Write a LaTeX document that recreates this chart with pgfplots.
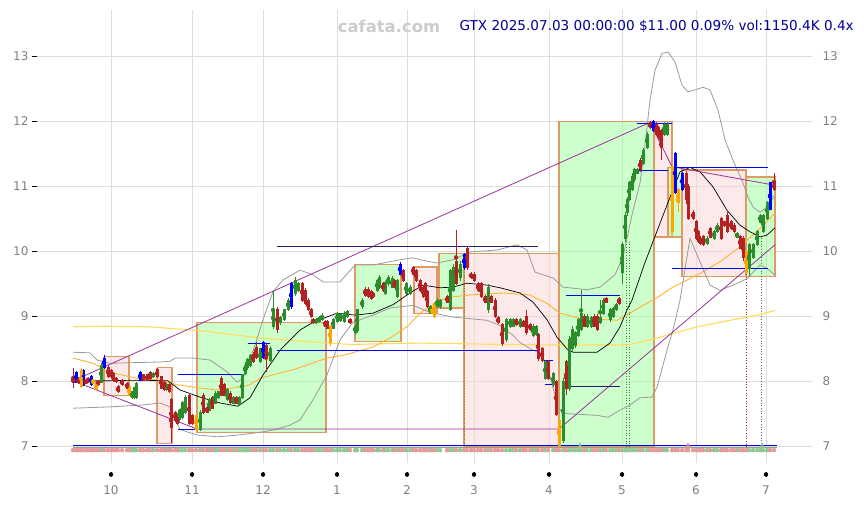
\documentclass[border=0pt]{standalone}
\usepackage{pgfplots}
\pgfplotsset{compat=1.18}
\usepackage{pgfplotstable}
\usepackage{fontspec}
\setmainfont{DejaVu Sans}
\definecolor{cgreen}{HTML}{2A8C2A}
\definecolor{cred}{HTML}{B22222}
\definecolor{cblue}{HTML}{0000FF}
\definecolor{corange}{HTML}{FFA500}
\definecolor{boxedge}{HTML}{DE9A62}
\definecolor{boxgreen}{HTML}{99FF99}
\definecolor{boxpink}{HTML}{FAD4D4}
\definecolor{band}{HTML}{9A9A9A}
\definecolor{maorange}{HTML}{FFB330}
\definecolor{magold}{HTML}{FFDD55}
\definecolor{cpurple}{HTML}{993399}
\definecolor{darkline}{HTML}{202070}
\definecolor{titleblue}{HTML}{000099}
\definecolor{wm}{HTML}{CCCCCC}
\definecolor{tickgray}{HTML}{808080}
\definecolor{gridc}{HTML}{DDDDDD}
\definecolor{volgreen}{HTML}{92C992}
\definecolor{volred}{HTML}{E39B9B}

\pgfplotstableread{
x o c h l
101 7.99 8.25 8.28 7.97
132 7.75 7.84 7.86 7.73
134 7.75 7.90 7.92 7.73
136 7.75 7.97 7.99 7.73
153 8.07 8.12 8.14 8.05
166 7.87 7.95 7.97 7.85
179 7.41 7.56 7.58 7.38
182 7.45 7.67 7.70 7.42
185 7.52 7.76 7.80 7.50
200 7.26 7.53 7.56 7.24
209 7.56 7.72 7.75 7.54
215 7.67 7.82 7.85 7.65
218 7.75 7.84 7.86 7.73
227 7.72 7.87 7.90 7.70
233 7.67 7.76 7.78 7.65
239 7.64 7.76 7.78 7.62
242 7.75 8.10 8.12 7.73
245 8.13 8.25 8.28 8.10
247 8.22 8.33 8.36 8.18
250 8.25 8.40 8.43 8.22
260 8.30 8.50 8.52 8.28
270 8.33 8.51 8.54 8.30
273 8.85 9.10 9.40 8.80
280 8.90 8.98 9.00 8.87
284 8.95 9.10 9.12 8.93
288 9.10 9.25 9.28 9.08
295 9.35 9.55 9.60 9.32
298 9.40 9.50 9.53 9.38
316 8.90 8.95 8.97 8.88
319 8.92 8.98 9.00 8.90
322 8.95 9.00 9.05 8.93
333 8.82 8.95 8.98 8.80
337 8.92 9.05 9.07 8.90
340 8.93 9.03 9.05 8.91
344 8.92 9.05 9.08 8.90
347 9.00 9.07 9.10 8.98
355 8.75 8.85 8.88 8.72
357 8.78 9.10 9.12 8.75
362 9.15 9.25 9.28 9.12
377 9.40 9.55 9.58 9.38
379 9.45 9.60 9.63 9.42
385 9.35 9.52 9.55 9.33
388 9.50 9.60 9.63 9.47
392 9.45 9.58 9.62 9.43
397 9.30 9.55 9.58 9.28
406 9.35 9.50 9.53 9.33
410 9.35 9.45 9.48 9.33
430 9.05 9.15 9.18 9.03
437 9.15 9.25 9.28 9.13
440 9.15 9.25 9.27 9.12
450 9.10 9.70 9.73 9.08
453 9.40 9.75 9.80 9.38
460 9.60 9.80 9.85 9.55
488 9.10 9.45 9.50 9.05
506 8.65 8.95 8.98 8.60
510 8.85 8.95 8.98 8.82
513 8.85 8.95 8.97 8.83
520 8.85 8.95 8.98 8.82
533 8.70 8.85 8.88 8.68
536 8.72 8.85 8.87 8.70
545 8.05 8.30 8.33 8.02
553 7.95 8.12 8.15 7.92
563 7.10 8.00 8.05 7.05
569 7.90 8.65 8.70 7.85
572 8.50 8.80 8.85 8.45
575 8.55 8.75 8.78 8.52
578 8.70 8.95 8.98 8.68
581 8.80 9.05 9.40 8.78
587 8.85 9.00 9.03 8.82
591 8.85 8.98 9.00 8.82
600 8.90 8.98 9.25 8.88
603 9.05 9.25 9.28 9.02
610 8.95 9.10 9.13 8.92
613 9.00 9.12 9.15 8.98
616 9.10 9.18 9.20 9.08
622 9.67 10.10 10.15 9.50
625 10.20 10.55 10.60 10.15
627 10.60 10.80 10.83 10.55
629 10.80 11.05 11.08 10.77
632 10.95 11.15 11.18 10.92
634 11.10 11.25 11.28 11.07
637 11.20 11.25 11.28 11.18
643 11.35 11.55 11.58 11.32
647 11.60 11.80 11.83 11.57
664 11.80 11.95 11.98 11.77
667 11.80 11.95 11.98 11.77
707 10.12 10.20 10.23 10.10
714 10.20 10.30 10.33 10.18
717 10.30 10.40 10.43 10.28
737 10.22 10.27 10.30 10.20
749 9.73 10.10 10.12 9.62
753 9.90 10.10 10.13 9.88
757 10.10 10.30 10.33 10.08
760 10.45 10.55 10.58 10.43
763 10.30 10.55 10.58 10.28
767 10.50 10.75 10.78 10.48
}\greentab

\pgfplotstableread{
x o c h l
73 8.04 7.99 8.20 7.90
78 8.05 7.98 8.07 7.96
86 8.01 7.98 8.03 7.96
88 8.05 8.00 8.07 7.98
98 8.00 7.95 8.02 7.93
108 8.22 8.07 8.25 8.05
111 8.17 8.07 8.19 8.05
113 8.12 8.01 8.14 7.99
116 8.05 8.00 8.07 7.98
118 7.92 7.84 7.94 7.82
122 8.02 7.95 8.04 7.93
127 7.97 7.90 7.99 7.88
143 8.10 8.02 8.12 8.00
147 8.10 8.02 8.12 8.00
150 8.14 8.05 8.16 8.03
157 8.18 8.07 8.20 8.05
161 8.07 7.90 8.09 7.88
164 7.98 7.87 8.00 7.85
169 7.95 7.84 7.97 7.82
171 7.72 7.29 7.75 7.06
175 7.52 7.41 7.55 7.38
177 7.44 7.36 7.47 7.33
189 7.79 7.36 7.82 7.33
192 7.48 7.36 7.50 7.33
203 7.79 7.53 7.82 7.50
207 7.60 7.53 7.62 7.51
212 7.75 7.59 7.78 7.57
221 8.05 7.79 8.08 7.77
224 7.95 7.79 7.97 7.77
230 7.82 7.68 7.85 7.66
236 7.75 7.67 7.77 7.65
253 8.42 8.30 8.45 8.28
256 8.52 8.37 8.60 8.35
266 8.55 8.35 8.58 8.15
277 9.10 8.80 9.15 8.75
302 9.50 9.25 9.53 9.22
305 9.40 9.20 9.43 9.18
308 9.25 9.10 9.28 9.08
311 9.10 9.00 9.13 8.98
313 8.95 8.90 8.98 8.88
325 8.92 8.85 8.95 8.83
327 8.92 8.82 8.95 8.80
350 8.95 8.90 8.98 8.88
365 9.42 9.32 9.45 9.30
368 9.42 9.30 9.45 9.28
371 9.38 9.27 9.40 9.25
373 9.35 9.30 9.38 9.28
383 9.50 9.40 9.53 9.38
394 9.55 9.45 9.58 9.43
403 9.70 9.55 9.73 9.53
413 9.75 9.65 9.78 9.63
416 9.70 9.55 9.73 9.53
420 9.55 9.40 9.58 9.38
423 9.45 9.30 9.48 9.28
425 9.50 9.30 9.53 9.28
427 9.38 9.15 9.40 9.13
447 9.30 9.22 9.33 9.20
456 9.85 9.50 10.33 9.48
467 10.05 9.75 10.08 9.72
471 9.65 9.60 9.68 9.58
474 9.65 9.55 9.68 9.53
478 9.50 9.40 9.53 9.38
481 9.50 9.30 9.53 9.28
485 9.30 9.22 9.33 9.20
491 9.30 9.22 9.33 9.20
495 9.25 9.00 9.28 8.98
498 8.98 8.90 9.00 8.88
502 8.88 8.58 8.90 8.55
516 8.95 8.88 8.97 8.86
523 8.92 8.85 8.95 8.83
526 9.00 8.75 9.10 8.72
530 8.88 8.80 8.90 8.78
538 8.72 8.35 8.75 8.32
542 8.50 8.32 8.53 8.30
548 8.30 8.05 8.33 8.02
556 8.00 7.50 8.03 7.47
566 8.30 7.90 8.33 7.80
584 9.00 8.85 9.03 8.83
594 9.00 8.85 9.03 8.83
597 9.00 8.80 9.03 8.78
606 9.28 9.22 9.30 9.20
619 9.27 9.20 9.30 9.18
640 11.40 11.25 11.43 11.22
650 11.98 11.90 12.00 11.88
656 11.95 11.80 11.98 11.78
658 11.90 11.75 11.93 11.73
661 11.85 11.60 11.88 11.40
686 11.20 10.80 11.23 10.78
688 11.00 10.50 11.03 10.48
693 10.60 10.50 10.63 10.48
696 10.45 10.20 10.48 10.18
698 10.30 10.15 10.33 10.13
700 10.20 10.12 10.23 10.10
703 10.22 10.10 10.25 10.08
710 10.35 10.22 10.38 10.20
721 10.50 10.20 10.53 10.18
724 10.45 10.40 10.47 10.38
727 10.55 10.30 10.60 10.28
731 10.45 10.35 10.48 10.33
734 10.40 10.30 10.43 10.28
740 10.22 10.05 10.25 10.03
743 10.20 9.90 10.23 9.85
774 11.05 10.95 11.20 10.93
}\redtab

\pgfplotstableread{
x o c h l
76 7.99 8.14 8.16 7.97
83 7.95 8.17 8.19 7.93
91 7.95 8.08 8.10 7.93
104 8.21 8.36 8.40 8.19
140 8.02 8.14 8.16 8.00
263 8.37 8.60 8.62 8.35
291 9.15 9.50 9.53 9.12
400 9.65 9.80 9.83 9.63
464 9.75 9.95 9.97 9.72
653 11.85 12.00 12.02 11.83
675 10.90 11.50 11.52 10.88
682 10.95 11.20 11.22 10.93
770 10.65 11.05 11.07 10.63
}\bluetab

\pgfplotstableread{
x o c h l
81 8.17 7.92 8.20 7.90
93 8.02 7.98 8.04 7.96
96 7.98 7.87 8.00 7.85
129 7.92 7.79 7.94 7.77
196 7.48 7.26 7.50 7.24
330 8.85 8.60 8.87 8.55
432 9.12 9.05 9.14 9.03
434 9.20 9.00 9.22 8.98
559 7.40 7.02 7.45 7.00
672 11.30 10.30 11.32 10.28
678 10.95 10.75 10.97 10.60
746 10.00 9.67 10.02 9.65
}\orangetab

\pgfplotsset{
  wick/.style={only marks, mark=none, forget plot,
    error bars/.cd, y dir=both, y explicit, error mark=none,
    error bar style={line width=0.9bp}, /pgfplots/.cd},
  body/.style={only marks, mark=none, forget plot,
    error bars/.cd, y dir=both, y explicit, error mark=none,
    error bar style={line width=3bp}, /pgfplots/.cd},
  vol/.style={only marks, mark=none, forget plot,
    error bars/.cd, y dir=both, y explicit, error mark=none,
    error bar style={line width=2.6bp}, /pgfplots/.cd},
  bx/.style={draw=boxedge, line width=1.2bp, fill=#1, fill opacity=0.5, forget plot},
}

\begin{document}
\begin{tikzpicture}
\path[use as bounding box] (0,0) rectangle (864bp,505bp);
\begin{axis}[
  at={(37bp,42bp)}, anchor=south west, scale only axis,
  width=775bp, height=453bp,
  xmin=37, xmax=812, ymin=6.748, ymax=13.707,
  clip=false,
  axis line style={draw=none},
  xtick={111,192,263,337,407,474,549,622,696,766},
  xticklabels={10,11,12,1,2,3,4,5,6,7},
  xtick pos=left, xticklabel pos=left,
  xtick style={draw=none},
  xticklabel style={font=\fontsize{12bp}{14bp}\selectfont, text=tickgray, yshift=-14bp},
  ytick={7,8,9,10,11,12,13},
  ytick pos=left, yticklabel pos=left,
  tick align=outside, major tick length=5bp,
  ytick style={color=black, line width=0.8bp},
  xmajorgrids, ymajorgrids,
  grid style={color=gridc, line width=0.9bp},
  /pgf/number format/assume math mode=true,
  yticklabel style={font=\fontsize{12bp}{14bp}\selectfont, text=tickgray},
]
% boxes
\addplot[bx=boxpink] coordinates {(104,8.38) (129,8.38) (129,7.78) (104,7.78) (104,8.38)};
\addplot[bx=boxpink] coordinates {(157,8.21) (172,8.21) (172,7.05) (157,7.05) (157,8.21)};
\addplot[bx=boxgreen] coordinates {(197,8.91) (326,8.91) (326,7.22) (197,7.22) (197,8.91)};
\addplot[bx=boxgreen] coordinates {(355,9.80) (401,9.80) (401,8.62) (355,8.62) (355,9.80)};
\addplot[bx=boxpink] coordinates {(414,9.76) (437,9.76) (437,9.05) (414,9.05) (414,9.76)};
\addplot[bx=boxgreen] coordinates {(439,9.97) (464,9.97) (464,9.13) (439,9.13) (439,9.97)};
\addplot[bx=boxpink] coordinates {(464,9.97) (559,9.97) (559,7.01) (464,7.01) (464,9.97)};
\addplot[bx=boxgreen] coordinates {(559,12.0) (654,12.0) (654,7.01) (559,7.01) (559,12.0)};
\addplot[bx=boxpink] coordinates {(654,12.0) (672,12.0) (672,10.22) (654,10.22) (654,12.0)};
\addplot[bx=boxgreen] coordinates {(668,11.29) (682,11.29) (682,10.22) (668,10.22) (668,11.29)};
\addplot[bx=boxpink] coordinates {(682,11.25) (746,11.25) (746,9.61) (682,9.61) (682,11.25)};
\addplot[bx=boxgreen] coordinates {(746,11.14) (775,11.14) (775,9.61) (746,9.61) (746,11.14)};

% x tick marks below the plot area (month positions)
\addplot[black, only marks, mark=none, forget plot,
  error bars/.cd, y dir=both, y explicit, error mark=none,
  error bar style={line width=0.8bp}] coordinates {
(111,6.572) +- (0,0.038) (192,6.572) +- (0,0.038) (263,6.572) +- (0,0.038)
(337,6.572) +- (0,0.038) (407,6.572) +- (0,0.038) (474,6.572) +- (0,0.038)
(549,6.572) +- (0,0.038) (622,6.572) +- (0,0.038) (696,6.572) +- (0,0.038)
(766,6.572) +- (0,0.038)};

% dotted verticals
\addplot[olive, dotted, line width=0.7bp, forget plot] coordinates {(464,9.97) (464,7.0)};
\addplot[cgreen, dotted, line width=0.7bp, forget plot] coordinates {(626,10.15) (626,7.0)};
\addplot[cgreen, dotted, line width=0.7bp, forget plot] coordinates {(629,10.15) (629,7.0)};
\addplot[cred, dotted, line width=0.7bp, forget plot] coordinates {(746,9.65) (746,7.0)};
\addplot[cgreen, dotted, line width=0.7bp, forget plot] coordinates {(761,10.2) (761,7.0)};

% gold MA
\addplot[magold, line width=1.1bp, forget plot] coordinates {
(73,8.84) (100,8.85) (150,8.84) (200,8.78) (260,8.67) (300,8.62) (350,8.57) (420,8.59)
(500,8.57) (560,8.56) (627,8.56) (653,8.65) (673,8.74) (700,8.85) (730,8.94) (760,9.03) (775,9.09)};
% orange MA
\addplot[maorange, line width=0.9bp, forget plot] coordinates {
(73,8.36) (93,8.28) (110,8.14) (137,8.05) (160,8.02) (177,7.95) (200,7.90) (217,7.87)
(233,7.90) (250,7.95) (260,8.05) (293,8.18) (327,8.36) (345,8.41) (373,8.53) (390,8.67)
(407,8.84) (420,9.05) (440,9.25) (453,9.30) (470,9.33) (503,9.36) (530,9.33) (547,9.20)
(560,9.05) (580,8.97) (617,8.94) (630,9.05) (643,9.17) (653,9.25) (673,9.45) (700,9.66)
(720,9.84) (740,10.07) (760,10.35) (775,10.59)};
% upper band
\addplot[band, line width=0.8bp, forget plot] coordinates {
(73,8.45) (90,8.44) (97,8.33) (110,8.28) (160,8.30) (170,8.31) (175,8.36) (193,8.36)
(210,8.33) (227,8.15) (237,7.99) (243,8.05) (255,8.56) (263,8.95) (273,9.38) (283,9.56)
(300,9.71) (313,9.64) (323,9.53) (340,9.53) (355,9.79) (373,9.79) (400,9.87) (413,9.90)
(420,9.87) (437,9.82) (453,9.87) (470,9.99) (497,10.02) (517,10.10) (527,10.02) (535,9.68)
(553,9.59) (563,9.45) (587,9.41) (600,9.45) (615,9.64) (623,9.91) (632,10.56) (640,11.05)
(645,11.63) (650,12.32) (655,12.78) (662,13.04) (668,13.06) (675,12.91) (682,12.55)
(688,12.45) (695,12.48) (703,12.52) (710,12.48) (718,12.17) (725,11.71) (733,11.40)
(743,11.05) (748,10.83) (753,10.68) (760,10.60) (767,10.68) (775,10.86)};
% lower band
\addplot[band, line width=0.8bp, forget plot] coordinates {
(73,7.59) (110,7.61) (143,7.64) (160,7.67) (170,7.61) (180,7.26) (197,7.18) (217,7.15)
(240,7.18) (260,7.22) (275,7.26) (290,7.33) (300,7.41) (313,7.72) (327,8.10) (340,8.64)
(353,8.91) (373,9.02) (390,9.13) (413,9.17) (430,9.06) (453,8.99) (487,8.94) (500,8.86)
(513,8.71) (520,8.60) (533,8.48) (540,8.45) (548,8.20) (558,7.61) (563,7.51) (597,7.48)
(608,7.45) (620,7.56) (630,7.64) (640,7.75) (652,7.76) (657,7.91) (667,8.48) (673,8.79)
(680,9.25) (690,10.20) (700,9.84) (710,9.48) (720,9.40) (733,9.48) (747,9.58) (760,9.79)
(767,9.74) (775,9.63)};
% black MA
\addplot[black, line width=0.7bp, forget plot] coordinates {
(73,8.01) (100,8.01) (137,8.02) (168,8.01) (180,7.87) (200,7.76) (220,7.67) (238,7.62)
(250,7.75) (263,8.10) (280,8.48) (300,8.79) (313,8.91) (337,9.05) (355,9.02) (373,9.05)
(393,9.18) (410,9.36) (423,9.48) (440,9.44) (453,9.45) (467,9.51) (487,9.48) (500,9.44)
(520,9.36) (533,9.22) (547,8.95) (557,8.68) (567,8.50) (573,8.45) (597,8.45) (610,8.59)
(620,8.84) (627,9.10) (632,9.25) (645,9.83) (660,10.43) (670,10.83) (680,11.22)
(690,11.29) (700,11.22) (713,10.99) (727,10.63) (740,10.40) (750,10.30) (760,10.22)
(767,10.25) (775,10.36)};

% purple trend lines
\addplot[cpurple, line width=0.8bp, forget plot] coordinates {(73,8.01) (650,11.98)};
\addplot[cpurple, line width=0.8bp, forget plot] coordinates {(73,8.01) (197,7.27) (559,7.27) (775,10.10)};
\addplot[cpurple, line width=0.8bp, forget plot] coordinates {(650,11.98) (672,11.30) (773,11.02)};

% horizontal levels
\addplot[cblue, line width=0.8bp, forget plot] coordinates {(178,8.11) (242,8.11)};
\addplot[cblue, line width=0.8bp, forget plot] coordinates {(178,7.27) (197,7.27)};
\addplot[cblue, line width=0.8bp, forget plot] coordinates {(248,8.59) (270,8.59)};
\addplot[cblue, line width=0.8bp, forget plot] coordinates {(277,8.48) (540,8.48)};
\addplot[darkline, line width=0.8bp, forget plot] coordinates {(277,10.07) (538,10.07)};
\addplot[cblue, line width=0.8bp, forget plot] coordinates {(544,8.33) (553,8.33)};
\addplot[cblue, line width=0.8bp, forget plot] coordinates {(545,7.96) (553,7.96)};
\addplot[cblue, line width=0.8bp, forget plot] coordinates {(566,9.33) (620,9.33)};
\addplot[darkline, line width=0.8bp, forget plot] coordinates {(566,7.92) (620,7.92)};
\addplot[cblue, line width=0.8bp, forget plot] coordinates {(637,11.25) (668,11.25)};
\addplot[cblue, line width=0.8bp, forget plot] coordinates {(637,11.97) (672,11.97)};
\addplot[cblue, line width=0.8bp, forget plot] coordinates {(673,11.29) (768,11.29)};
\addplot[cblue, line width=0.8bp, forget plot] coordinates {(672,9.74) (768,9.74)};

% volume strip
\addplot[vol, color=volgreen] table[x=x, y expr=6.945, y error expr=0.03] {\greentab};
\addplot[vol, color=volred] table[x=x, y expr=6.945, y error expr=0.03] {\redtab};
\addplot[vol, color=volred] table[x=x, y expr=6.945, y error expr=0.03] {\bluetab};
\addplot[vol, color=volred] table[x=x, y expr=6.945, y error expr=0.03] {\orangetab};
\addplot[vol, color=volgreen] coordinates {(580,6.99) +- (0,0.065) (762,6.99) +- (0,0.065)};
\addplot[vol, color=volred] coordinates {(688,6.99) +- (0,0.065)};
\addplot[cblue, line width=1.0bp, forget plot] coordinates {(73,7.01) (777,7.01)};
\addplot[band, line width=0.9bp, forget plot] coordinates {(73,6.985) (777,6.985)};

% candles: wicks
\addplot[wick, color=cgreen] table[x=x, y expr={(\thisrow{h}+\thisrow{l})/2}, y error expr={(\thisrow{h}-\thisrow{l})/2}] {\greentab};
\addplot[wick, color=cred] table[x=x, y expr={(\thisrow{h}+\thisrow{l})/2}, y error expr={(\thisrow{h}-\thisrow{l})/2}] {\redtab};
\addplot[wick, color=cblue] table[x=x, y expr={(\thisrow{h}+\thisrow{l})/2}, y error expr={(\thisrow{h}-\thisrow{l})/2}] {\bluetab};
\addplot[wick, color=corange] table[x=x, y expr={(\thisrow{h}+\thisrow{l})/2}, y error expr={(\thisrow{h}-\thisrow{l})/2}] {\orangetab};
% candles: bodies
\addplot[body, color=cgreen] table[x=x, y expr={(\thisrow{o}+\thisrow{c})/2}, y error expr={abs(\thisrow{c}-\thisrow{o})/2+0.008}] {\greentab};
\addplot[body, color=cred] table[x=x, y expr={(\thisrow{o}+\thisrow{c})/2}, y error expr={abs(\thisrow{c}-\thisrow{o})/2+0.008}] {\redtab};
\addplot[body, color=cblue] table[x=x, y expr={(\thisrow{o}+\thisrow{c})/2}, y error expr={abs(\thisrow{c}-\thisrow{o})/2+0.008}] {\bluetab};
\addplot[body, color=corange] table[x=x, y expr={(\thisrow{o}+\thisrow{c})/2}, y error expr={abs(\thisrow{c}-\thisrow{o})/2+0.008}] {\orangetab};
\end{axis}

% right-side labels
\begin{axis}[
  at={(37bp,42bp)}, anchor=south west, scale only axis,
  width=775bp, height=453bp,
  xmin=37, xmax=812, ymin=6.748, ymax=13.707,
  axis line style={draw=none},
  xtick=\empty,
  ytick={7,8,9,10,11,12,13},
  ytick pos=right, yticklabel pos=right,
  major tick length=0pt,
  /pgf/number format/assume math mode=true,
  yticklabel style={font=\fontsize{12bp}{14bp}\selectfont, text=tickgray, xshift=7bp},
]
\addplot[draw=none, forget plot] coordinates {(100,8)};
\end{axis}

\node[anchor=center, text=wm, font=\fontsize{16.4bp}{18bp}\selectfont\bfseries] at (389bp,479bp) {cafata.com};
\node[anchor=east, inner sep=0pt, text=titleblue, font=\fontsize{13.6bp}{16bp}\selectfont] at (854bp,479bp) {GTX 2025.07.03 00:00:00 \$11.00 0.09\% vol:1150.4K 0.4x};
\end{tikzpicture}
\end{document}
